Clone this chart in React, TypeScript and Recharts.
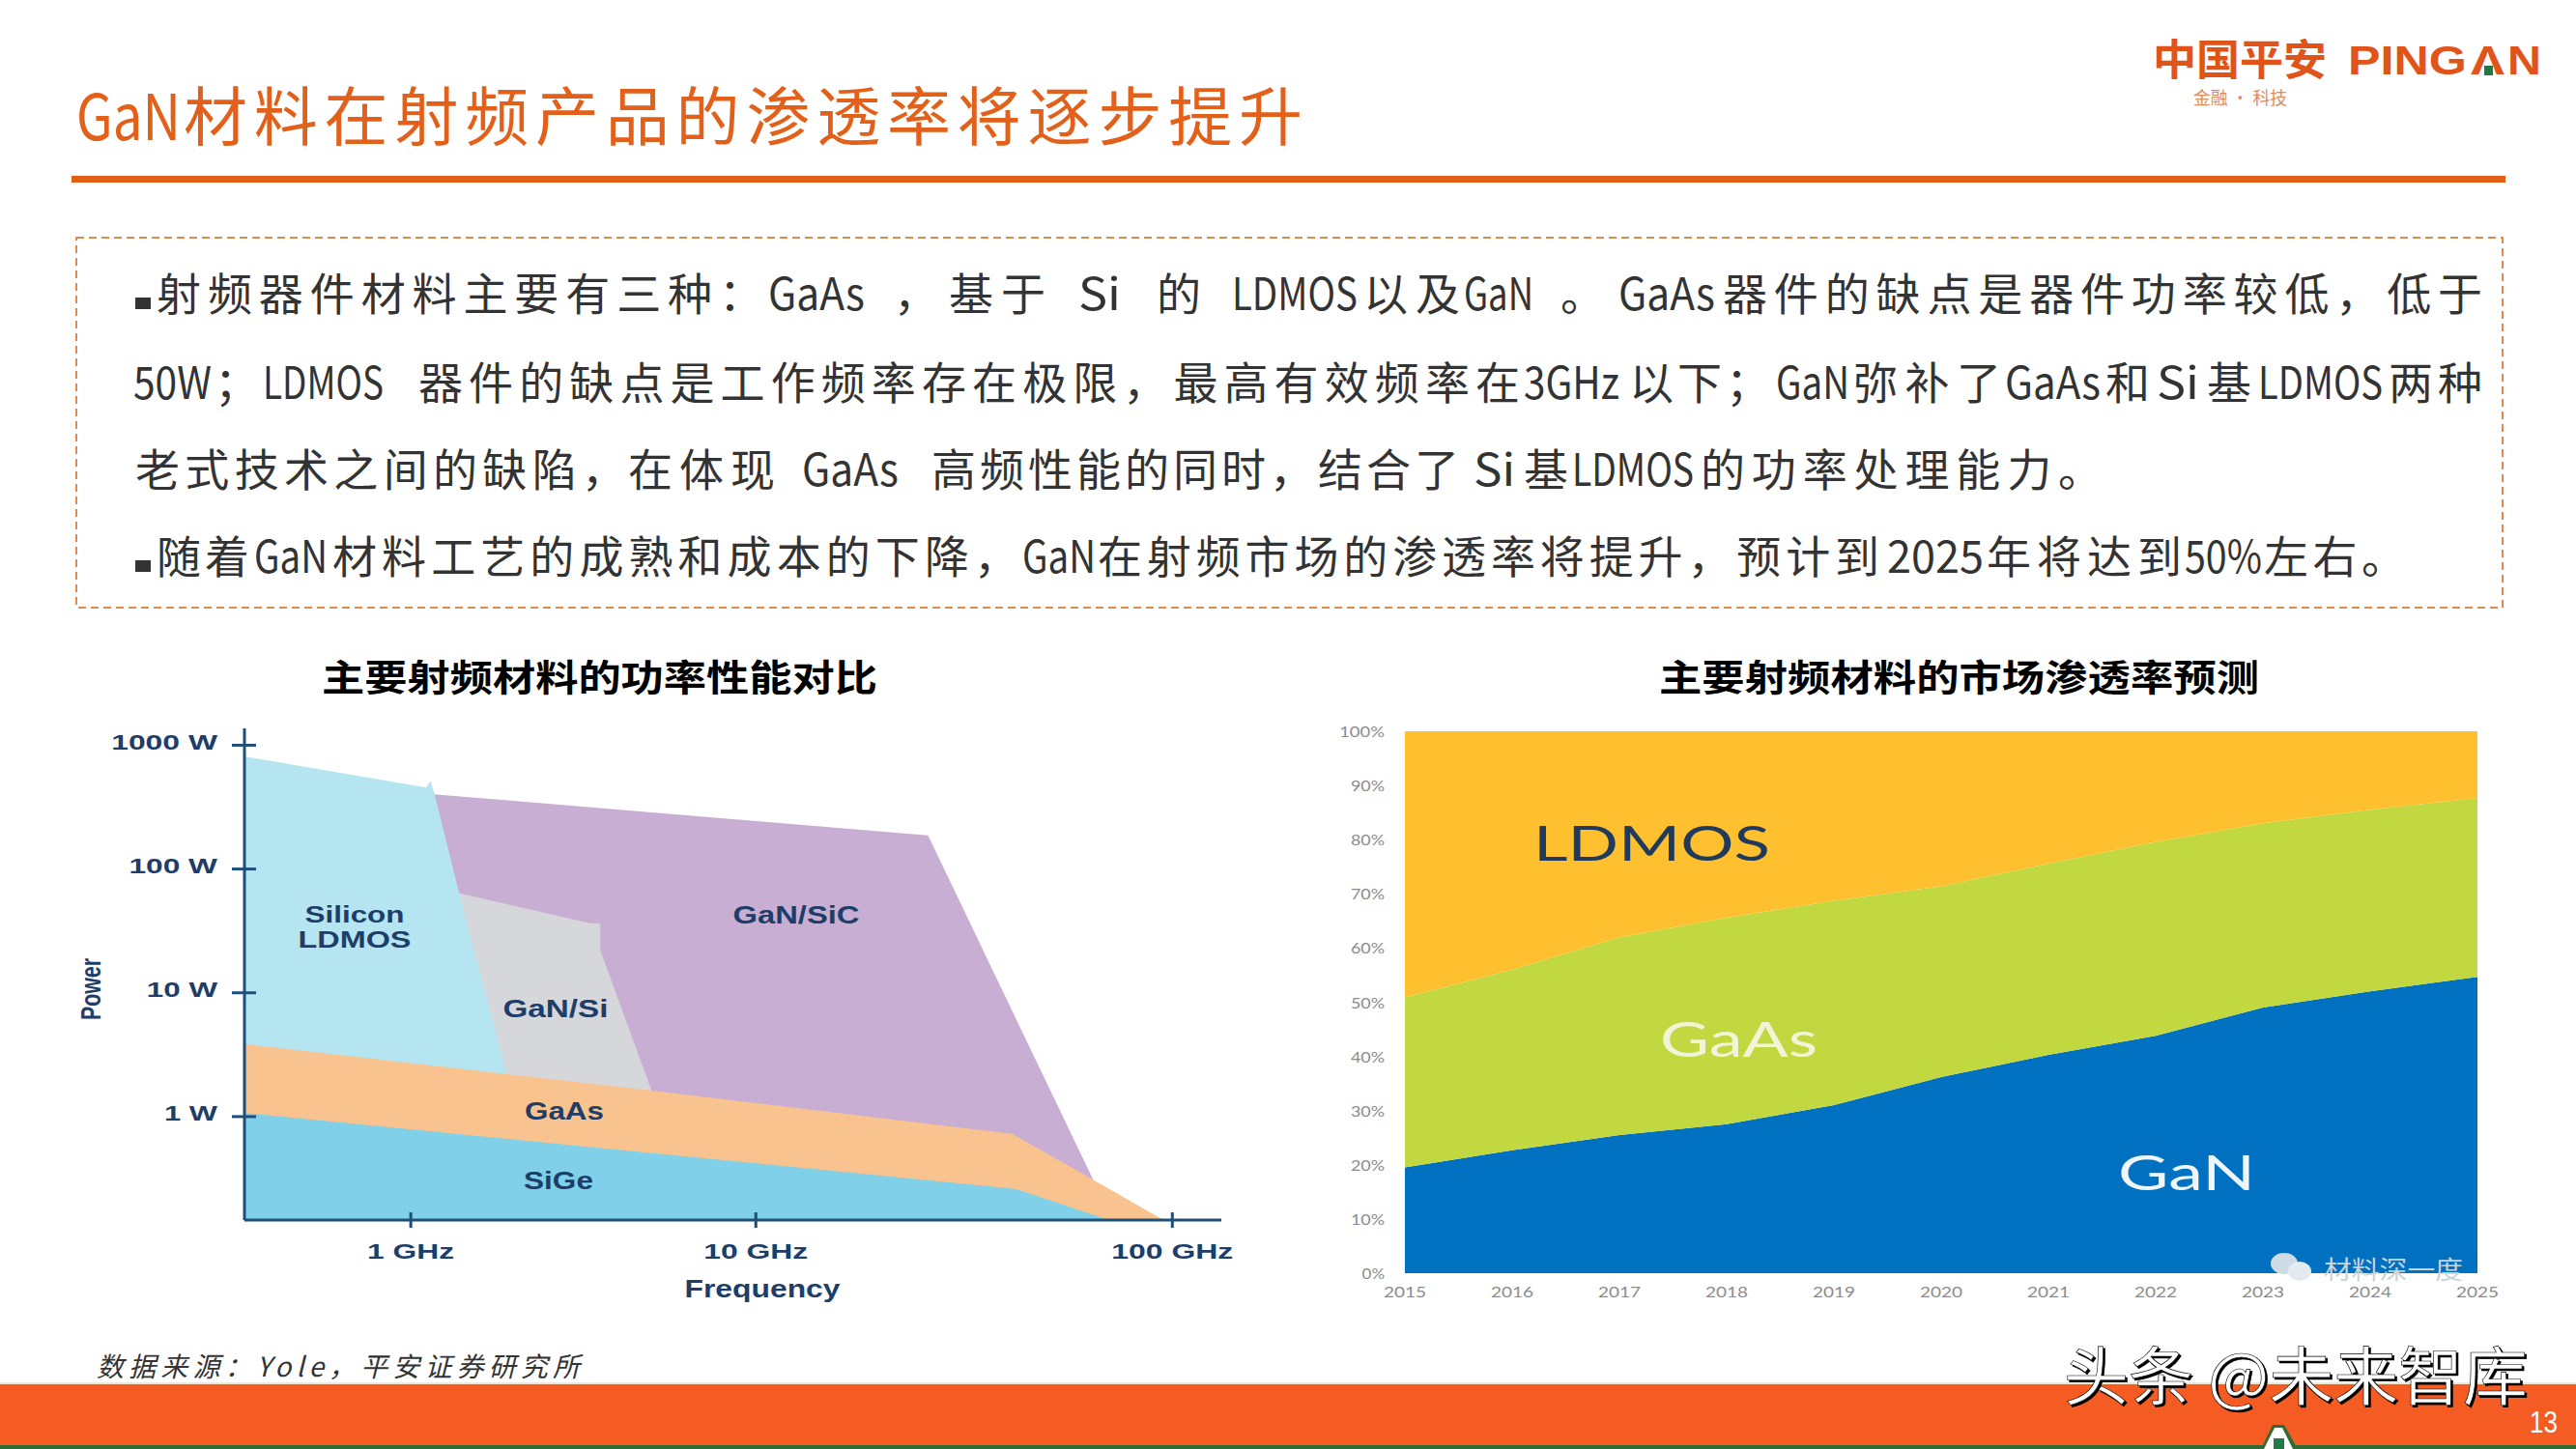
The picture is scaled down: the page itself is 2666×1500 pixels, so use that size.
import React from 'react';
import { ComposedChart, AreaChart, Area, XAxis, YAxis } from 'recharts';

// ---------- left chart: power vs frequency (x = position in "decades", y = watts) ----------
const freqTicks = [1, 2, 3.207];
const freqLabels = ['1 GHz', '10 GHz', '100 GHz'];
const powerTicks = [1, 10, 100, 1000];
const powerLabels = ['1 W', '10 W', '100 W', '1000 W'];

const ganSicF = [1.057, 2.499, 2.981];
const ganSicW = [404, 187, 0.295];
const ganSiF = [1.14, 1.52, 1.549, 1.549, 1.698];
const ganSiW = [63.8, 36.4, 36.4, 22, 1.62];
const ldmosF = [0.518, 1.045, 1.057, 1.069, 1.14, 1.276];
const ldmosW = [812, 456, 514, 404, 63.8, 2.32];
const gaasF = [0.518, 1.698, 2.743, 2.981, 3.178];
const gaasW = [3.85, 1.62, 0.726, 0.305, 0.148];
const sigeF = [0.518, 2.755, 3.017];
const sigeW = [1.07, 0.26, 0.148];

const zip = (f: number[], w: number[]) => f.map((v, i) => ({ f: v, w: w[i] }));

// ---------- right chart: market share ----------
const years = ['2015', '2016', '2017', '2018', '2019', '2020', '2021', '2022', '2023', '2024', '2025'];
const shareGaN = [19.5, 22.7, 25.5, 27.5, 31, 36.2, 40.3, 43.8, 49, 52, 54.7];
const shareGaAs = [31.4, 33.3, 36.5, 38.1, 37.7, 35.2, 35.3, 35.8, 34, 33.5, 33];
const shareLDMOS = [49.1, 44, 38, 34.4, 31.3, 28.6, 24.4, 20.4, 17, 14.5, 12.3];
const shareTicks = [0, 10, 20, 30, 40, 50, 60, 70, 80, 90, 100];
const shareData = years.map((y, i) => ({ y, GaN: shareGaN[i], GaAs: shareGaAs[i], LDMOS: shareLDMOS[i] }));

// ---------- slide text ----------
const leftTitle = '主要射频材料的功率性能对比';
const rightTitle = '主要射频材料的市场渗透率预测';
const sourceText = '数据来源：Yole，平安证券研究所';
const watermark = '头条 @未来智库';

// each run of a body line: text, left edge, right edge
type Seg = [string, number, number];
const titleRuns: Seg[] = [['GaN', 79, 187], ['材料在射频产品的渗透率将逐步提升', 190, 1348]];
const line1: Seg[] = [
  ['射频器件材料主要有三种：', 162, 790], ['GaAs', 795, 895], ['，', 925, 971], ['基于', 982, 1082], ['Si', 1116, 1160],
  ['的', 1197, 1245], ['LDMOS', 1275, 1405], ['以及', 1411, 1511], ['GaN', 1515, 1587], ['。', 1615, 1661],
  ['GaAs', 1675, 1775], ['器件的缺点是器件功率较低，低于', 1783, 2569],
];
const line2: Seg[] = [
  ['50W', 138, 219], ['；', 222, 268], ['LDMOS', 272, 397], ['器件的缺点是工作频率存在极限，最高有效频率在', 433, 1573],
  ['3GHz', 1577, 1676], ['以下；', 1686, 1832], ['GaN', 1838, 1914], ['弥补了', 1918, 2071], ['GaAs', 2075, 2174],
  ['和', 2179, 2231], ['Si', 2232, 2276], ['基', 2284, 2335], ['LDMOS', 2337, 2466], ['两种', 2472, 2569],
];
const line3: Seg[] = [
  ['老式技术之间的缺陷，', 140, 648], ['在体现', 650, 802], ['GaAs', 830, 930], ['高频性能的同时，结合了', 964, 1510],
  ['Si', 1525, 1568], ['基', 1577, 1627], ['LDMOS', 1627, 1753], ['的功率处理能力。', 1760, 2176],
];
const line4: Seg[] = [
  ['随着', 162, 258], ['GaN', 263, 339], ['材料工艺的成熟和成本的下降，', 344, 1054], ['GaN', 1058, 1134],
  ['在射频市场的渗透率将提升，预计到', 1136, 1945], ['2025', 1953, 2053], ['年将达到', 2056, 2258], ['50%', 2261, 2341],
  ['左右。', 2343, 2490],
];

const CJK = '"Noto Sans CJK SC", sans-serif';
const SANS = '"Liberation Sans", Arial, sans-serif';
const LATO = 'Lato, sans-serif';
const NAVY = '#1f4e79';
const INK = '#1d3e68';

const ctx = document.createElement('canvas').getContext('2d') as CanvasRenderingContext2D;
const natural = (s: string, size: number, font: string, weight: number | string = 400) => {
  ctx.font = `${weight} ${size}px ${font}`;
  return ctx.measureText(s).width;
};

type TP = {
  x: number; y: number; w?: number; size: number; fill?: string; weight?: number | string;
  font?: string; anchor?: 'start' | 'middle' | 'end'; fit?: 'spacing' | 'spacingAndGlyphs';
  italic?: boolean; children: React.ReactNode; extra?: any; rotate?: number;
};
const T = ({ x, y, w, size, fill = '#333', weight = 400, font = CJK, anchor = 'start', fit = 'spacingAndGlyphs', italic, children, extra, rotate }: TP) => (
  <text
    x={x}
    y={y}
    textLength={w}
    lengthAdjust={w ? fit : undefined}
    fontSize={size}
    fill={fill}
    fontWeight={weight}
    fontFamily={font}
    textAnchor={anchor}
    dominantBaseline="central"
    fontStyle={italic ? 'italic' : undefined}
    transform={rotate ? `rotate(${rotate} ${x} ${y})` : undefined}
    style={{ whiteSpace: 'pre' }}
    {...extra}
  >
    {children}
  </text>
);

// horizontally squeezed run: the transform carries the reference's condensed Latin
const Squeezed = ({ s, a, b, y, size, fill, weight = 400, font = CJK }: any) => (
  <text
    transform={`translate(${a} ${y}) scale(${(b - a) / natural(s, size, font, weight)} 1)`}
    fontSize={size}
    fill={fill}
    fontWeight={weight}
    fontFamily={font}
    dominantBaseline="central"
  >
    {s}
  </text>
);

const isLatin = (s: string) => /^[A-Za-z0-9%]+$/.test(s);
const RunLine = ({ y, segs, size = 46, fill = '#333' }: { y: number; segs: Seg[]; size?: number; fill?: string }) => (
  <g>
    {segs.map(([s, a, b], i) =>
      isLatin(s) ? (
        <Squeezed key={i} s={s} a={a} b={b} y={y} size={size} fill={fill} />
      ) : (
        <T key={i} x={a} y={y} w={b - a} size={size} fill={fill} fit="spacing">{s}</T>
      ),
    )}
  </g>
);

const FreqTick = ({ x, y, payload }: any) => {
  const label = freqLabels[freqTicks.indexOf(payload.value)];
  return (
    <g>
      <line x1={x} x2={x} y1={y - 8} y2={y + 8} stroke={NAVY} strokeWidth={3} />
      <T x={x} y={y + 32} w={18 * label.length} size={22} weight={700} font={SANS} fill={INK} anchor="middle">{label}</T>
    </g>
  );
};
const PowerTick = ({ x, y, payload }: any) => {
  const label = powerLabels[powerTicks.indexOf(payload.value)];
  return (
    <g>
      <line x1={x - 13} x2={x + 12} y1={y} y2={y} stroke={NAVY} strokeWidth={3} />
      <T x={x - 28} y={y - 3} w={18.3 * label.length} size={22} weight={700} font={SANS} fill={INK} anchor="end">{label}</T>
    </g>
  );
};
const YearTick = ({ x, y, payload }: any) => (
  <T x={x} y={y + 19} w={44} size={15} font={LATO} fill="#8c8c8c" anchor="middle">{payload.value}</T>
);
const ShareTick = ({ x, y, payload }: any) => {
  const s = `${payload.value}%`;
  return <T x={x - 21} y={y} w={11.7 * s.length} size={15} font={LATO} fill="#8c8c8c" anchor="end">{s}</T>;
};

const LeftChart = () => (
  <div style={{ position: 'absolute', left: 0, top: 660 }}>
    <ComposedChart width={1330} height={700} margin={{ left: 153, top: 94, right: 66, bottom: 37 }}>
      <XAxis dataKey="f" type="number" domain={[0.518, 3.349]} ticks={freqTicks} height={60} allowDataOverflow
        axisLine={{ stroke: NAVY, strokeWidth: 3 }} tickLine={false} tickSize={0} tickMargin={0} tick={FreqTick} interval={0} />
      <YAxis type="number" scale="log" domain={[0.146, 1368]} ticks={powerTicks} width={100} allowDataOverflow
        axisLine={{ stroke: NAVY, strokeWidth: 3 }} tickLine={false} tickSize={0} tickMargin={0} tick={PowerTick} interval={0} />
      <Area data={zip(ganSicF, ganSicW)} dataKey="w" type="linear" baseValue="dataMin" fill="#c9aed4" fillOpacity={1} stroke="none" isAnimationActive={false} dot={false} activeDot={false} />
      <Area data={zip(ganSiF, ganSiW)} dataKey="w" type="linear" baseValue="dataMin" fill="#d6d7da" fillOpacity={1} stroke="none" isAnimationActive={false} dot={false} activeDot={false} />
      <Area data={zip(ldmosF, ldmosW)} dataKey="w" type="linear" baseValue="dataMin" fill="#b5e5f0" fillOpacity={1} stroke="none" isAnimationActive={false} dot={false} activeDot={false} />
      <Area data={zip(gaasF, gaasW)} dataKey="w" type="linear" baseValue="dataMin" fill="#f9c390" fillOpacity={1} stroke="none" isAnimationActive={false} dot={false} activeDot={false} />
      <Area data={zip(sigeF, sigeW)} dataKey="w" type="linear" baseValue="dataMin" fill="#7fd0e8" fillOpacity={1} stroke="none" isAnimationActive={false} dot={false} activeDot={false} />
    </ComposedChart>
  </div>
);

const RightChart = () => (
  <div style={{ position: 'absolute', left: 1340, top: 660 }}>
    <AreaChart width={1326} height={700} data={shareData} margin={{ left: 24, top: 97, right: 102, bottom: 12 }}>
      <XAxis dataKey="y" height={30} axisLine={false} tickLine={false} tickSize={0} tickMargin={0} tick={YearTick} interval={0} />
      <YAxis type="number" domain={[0, 100]} ticks={shareTicks} width={90} axisLine={false} tickLine={false} tickSize={0} tickMargin={0} tick={ShareTick} interval={0} />
      <Area dataKey="GaN" stackId="s" type="linear" fill="#0070c0" fillOpacity={1} stroke="none" isAnimationActive={false} dot={false} activeDot={false} />
      <Area dataKey="GaAs" stackId="s" type="linear" fill="#c1d840" fillOpacity={1} stroke="none" isAnimationActive={false} dot={false} activeDot={false} />
      <Area dataKey="LDMOS" stackId="s" type="linear" fill="#ffc02f" fillOpacity={1} stroke="none" isAnimationActive={false} dot={false} activeDot={false} />
    </AreaChart>
  </div>
);

const Overlay = () => (
  <svg width={2666} height={1500} style={{ position: 'absolute', left: 0, top: 0, pointerEvents: 'none' }}>
    {/* header */}
    <RunLine y={116} segs={titleRuns} size={66} fill="#e2601a" />
    <rect x={74} y={182} width={2519} height={7} fill="#e05f13" />

    {/* logo */}
    <T x={2228} y={59} w={180} size={44} weight={700} fill="#e0541a">中国平安</T>
    <Squeezed s="PING" a={2430} b={2553} y={62.5} size={43} weight={700} font={SANS} fill="#e0541a" />
    <Squeezed s="Λ" a={2557} b={2592} y={62.5} size={43} weight={700} font={SANS} fill="#e0541a" />
    <Squeezed s="N" a={2595} b={2630} y={62.5} size={43} weight={700} font={SANS} fill="#e0541a" />
    <rect x={2571} y={68} width={9} height={10} fill="#1f7a45" />
    <T x={2270} y={100} w={97} size={18} fill="#e08a60">金融 · 科技</T>

    {/* text box */}
    <rect x={79} y={246} width={2511} height={383} fill="none" stroke="#e08a50" strokeWidth={2} strokeDasharray="8 5" />
    <rect x={140} y={308} width={16} height={12} fill="#333" />
    <RunLine y={301} segs={line1} />
    <RunLine y={393} segs={line2} />
    <RunLine y={483} segs={line3} />
    <rect x={140} y={580} width={16} height={12} fill="#333" />
    <RunLine y={573} segs={line4} />

    {/* chart titles */}
    <T x={333} y={698} w={575} size={38} weight={700} fill="#000">{leftTitle}</T>
    <T x={1717} y={698} w={621} size={38} weight={700} fill="#000">{rightTitle}</T>

    {/* left chart labels */}
    <T x={367} y={946} w={103} size={24} weight={700} font={SANS} fill={INK} anchor="middle">Silicon</T>
    <T x={367} y={972} w={117} size={24} weight={700} font={SANS} fill={INK} anchor="middle">LDMOS</T>
    <T x={824} y={947} w={131} size={25} weight={700} font={SANS} fill={INK} anchor="middle">GaN/SiC</T>
    <T x={575} y={1044} w={109} size={25} weight={700} font={SANS} fill={INK} anchor="middle">GaN/Si</T>
    <T x={584} y={1150} w={82} size={25} weight={700} font={SANS} fill={INK} anchor="middle">GaAs</T>
    <T x={578} y={1222} w={72} size={25} weight={700} font={SANS} fill={INK} anchor="middle">SiGe</T>
    <T x={93} y={1024} w={64} size={30} weight={700} font={SANS} fill={INK} anchor="middle" rotate={-90}>Power</T>
    <T x={789} y={1334} w={161} size={25} weight={700} font={SANS} fill={INK} anchor="middle">Frequency</T>

    {/* right chart labels */}
    <T x={1587} y={872} w={245} size={50} font={LATO} fill="#1f3a5a">LDMOS</T>
    <T x={1718} y={1075} w={163} size={50} font={LATO} fill="#f0f5d8">GaAs</T>
    <T x={2192} y={1213} w={142} size={50} font={LATO} fill="#eef6fb">GaN</T>

    {/* watermark inside chart */}
    <ellipse cx={2364} cy={1308} rx={14} ry={11} fill="#cfdce6" />
    <ellipse cx={2380} cy={1316} rx={12} ry={10} fill="#e4ebf0" />
    <T x={2405} y={1312} w={144} size={26} fill="#c9d3da">材料深一度</T>

    {/* source */}
    <T x={100} y={1413} w={500} size={28} italic fill="#333" fit="spacing">{sourceText}</T>

    {/* footer */}
    <rect x={0} y={1431} width={2666} height={2} fill="#f6e7c8" />
    <rect x={0} y={1433} width={2666} height={63} fill="#f45c23" />
    <rect x={0} y={1496} width={2666} height={4} fill="#2f6b35" />
    <polygon points="2352,1475 2364,1475 2378,1500 2340,1500" fill="#2f6b35" />
    <polygon points="2354,1478 2362,1478 2373,1500 2343,1500" fill="#fff" />
    <rect x={2353} y={1489} width={11} height={11} fill="#1f7a45" />
    <T x={2136} y={1420} w={480} size={66} fill="#fff" extra={{ filter: 'drop-shadow(2px 2px 0 #000)', stroke: '#000', strokeWidth: 0.6 }}>{watermark}</T>
    <T x={2632.5} y={1472} w={29} size={32} font={SANS} fill="#fff" anchor="middle">13</T>
  </svg>
);

export default function App() {
  return (
    <div style={{ position: 'absolute', left: 0, top: 0, width: 2666, height: 1500, background: '#fff', overflow: 'hidden' }}>
      <LeftChart />
      <RightChart />
      <Overlay />
    </div>
  );
}
